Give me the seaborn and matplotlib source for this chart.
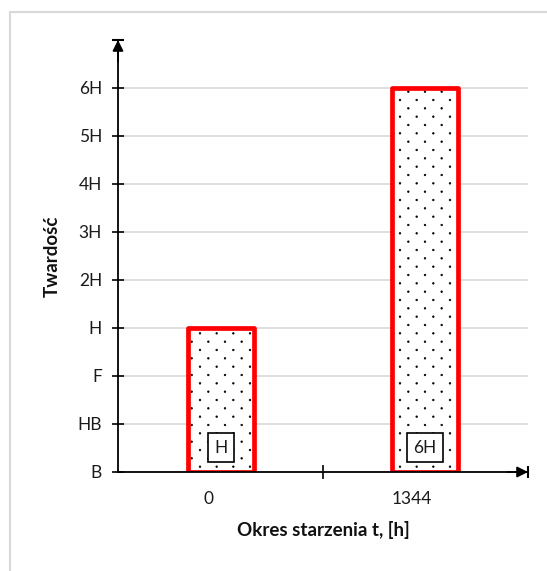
import matplotlib
matplotlib.use("Agg")
import numpy as np
import matplotlib.pyplot as plt
import matplotlib.transforms as mtransforms
from matplotlib import hatch as mhatch
from matplotlib.path import Path
from matplotlib.patches import Rectangle
import seaborn as sns
import pandas as pd

# ---- data ----
categories = ["0", "1344"]
hardness_level = [3, 8]          # index on the hardness scale below
hardness_label = ["H", "6H"]
ytick_labels = ["B", "HB", "F", "H", "2H", "3H", "4H", "5H", "6H"]
x_title = "Okres starzenia t, [h]"
y_title = "Twardość"


# ---- small-dot hatch texture (staggered rows like the Excel "5%" pattern) ----
class DotTexture(mhatch.HatchPatternBase):
    radius = 0.008

    def __init__(self, hatch, density):
        self.n = hatch.count(".") * density
        circ = Path.unit_circle()
        self.cv = circ.vertices * self.radius
        self.cc = circ.codes
        self.points = []
        if self.n:
            rows = 2 * self.n
            for r in range(rows + 1):
                y = r / rows
                if r % 2 == 0:
                    xs = [c / self.n for c in range(self.n + 1)]
                else:
                    xs = [(c + 0.5) / self.n for c in range(self.n)]
                self.points += [(x, y) for x in xs]
        self.num_vertices = len(self.points) * len(self.cv)

    def set_vertices_and_codes(self, vertices, codes):
        vparts = [self.cv + np.array(p) for p in self.points]
        cparts = [self.cc for _ in self.points]
        np.concatenate(vparts, out=vertices)
        np.concatenate(cparts, out=codes)


mhatch._hatch_types = [DotTexture if t is mhatch.SmallFilledCircles else t
                       for t in mhatch._hatch_types]

sns.set_theme(style="white")
plt.rcParams["font.family"] = ["Lato", "DejaVu Sans"]
plt.rcParams["hatch.color"] = "black"
plt.rcParams["hatch.linewidth"] = 0.5

df = pd.DataFrame({"t": categories, "level": hardness_level})

fig = plt.figure(figsize=(5.47, 5.71), dpi=100)
W, H = 547, 571
ax = fig.add_axes([118 / W, (H - 472) / H, 410 / W, 432 / H])

# hatched fill (black dots)
sns.barplot(data=df, x="t", y="level", ax=ax, color="white", width=0.32,
            edgecolor="black", linewidth=0, hatch=".", zorder=2)
# red outline
sns.barplot(data=df, x="t", y="level", ax=ax, fill=False, width=0.32,
            edgecolor="#ff0000", linewidth=3.4, zorder=3)
for p in ax.patches:
    p.set_joinstyle("round")

ax.set_xlim(-0.505, 1.505)
ax.set_ylim(0, 9)
ax.set_yticks(range(len(ytick_labels)))
ax.set_yticklabels(ytick_labels)
ax.yaxis.grid(True, color="#d9d9d9", linewidth=1.2, zorder=0)
ax.set_axisbelow(True)

for s in ["top", "right"]:
    ax.spines[s].set_visible(False)
for s in ["left", "bottom"]:
    ax.spines[s].set_color("black")
    ax.spines[s].set_linewidth(1.3)
    ax.spines[s].set_zorder(4)

ax.tick_params(axis="y", direction="inout", length=9, width=1.2, color="black",
               pad=7, labelsize=12.5, labelcolor="#1a1a1a", left=True)
ax.tick_params(axis="x", which="major", length=0, pad=14, labelsize=12.5,
               labelcolor="#1a1a1a")
ax.set_xticks([0.5], minor=True)
ax.tick_params(axis="x", which="minor", direction="inout", length=10, width=1.2,
               color="black", bottom=True)

off = mtransforms.ScaledTranslation(-13 / 100, 0, fig.dpi_scale_trans)
for lbl in ax.get_xticklabels():
    lbl.set_transform(lbl.get_transform() + off)

ax.set_xlabel(x_title, fontsize=13.5, fontweight="bold", color="#111111", labelpad=10)
ax.set_ylabel(y_title, fontsize=13.5, fontweight="bold", color="#111111", labelpad=12)

# value boxes near the bottom of each bar
for i, lab in enumerate(hardness_label):
    ax.text(i, 0.51, lab, ha="center", va="center", fontsize=12.5, color="#1a1a1a",
            zorder=5,
            bbox=dict(boxstyle="square,pad=0.38", fc="white", ec="black", lw=1.2))

# axis arrows with end caps
ax.annotate("", xy=(0, 1), xytext=(0, 0.95), xycoords="axes fraction",
            arrowprops=dict(arrowstyle="-|>", color="black", lw=1.3,
                            mutation_scale=16, shrinkA=0, shrinkB=0),
            annotation_clip=False)
ax.annotate("", xy=(1, 0), xytext=(0.95, 0), xycoords="axes fraction",
            arrowprops=dict(arrowstyle="-|>", color="black", lw=1.3,
                            mutation_scale=16, shrinkA=0, shrinkB=0),
            annotation_clip=False)
ax.plot([0], [1], marker="_", markersize=9, mew=1.5, color="black",
        transform=ax.transAxes, clip_on=False, zorder=6)
ax.plot([1], [0], marker="|", markersize=9, mew=1.5, color="black",
        transform=ax.transAxes, clip_on=False, zorder=6)

# light grey chart-area frame
fig.add_artist(Rectangle((10 / W, -0.1), 1.2, 1 - 12 / H + 0.1,
                         transform=fig.transFigure, fill=False,
                         ec="#d9d9d9", lw=1.5))

fig.savefig("out.png", dpi=100)
